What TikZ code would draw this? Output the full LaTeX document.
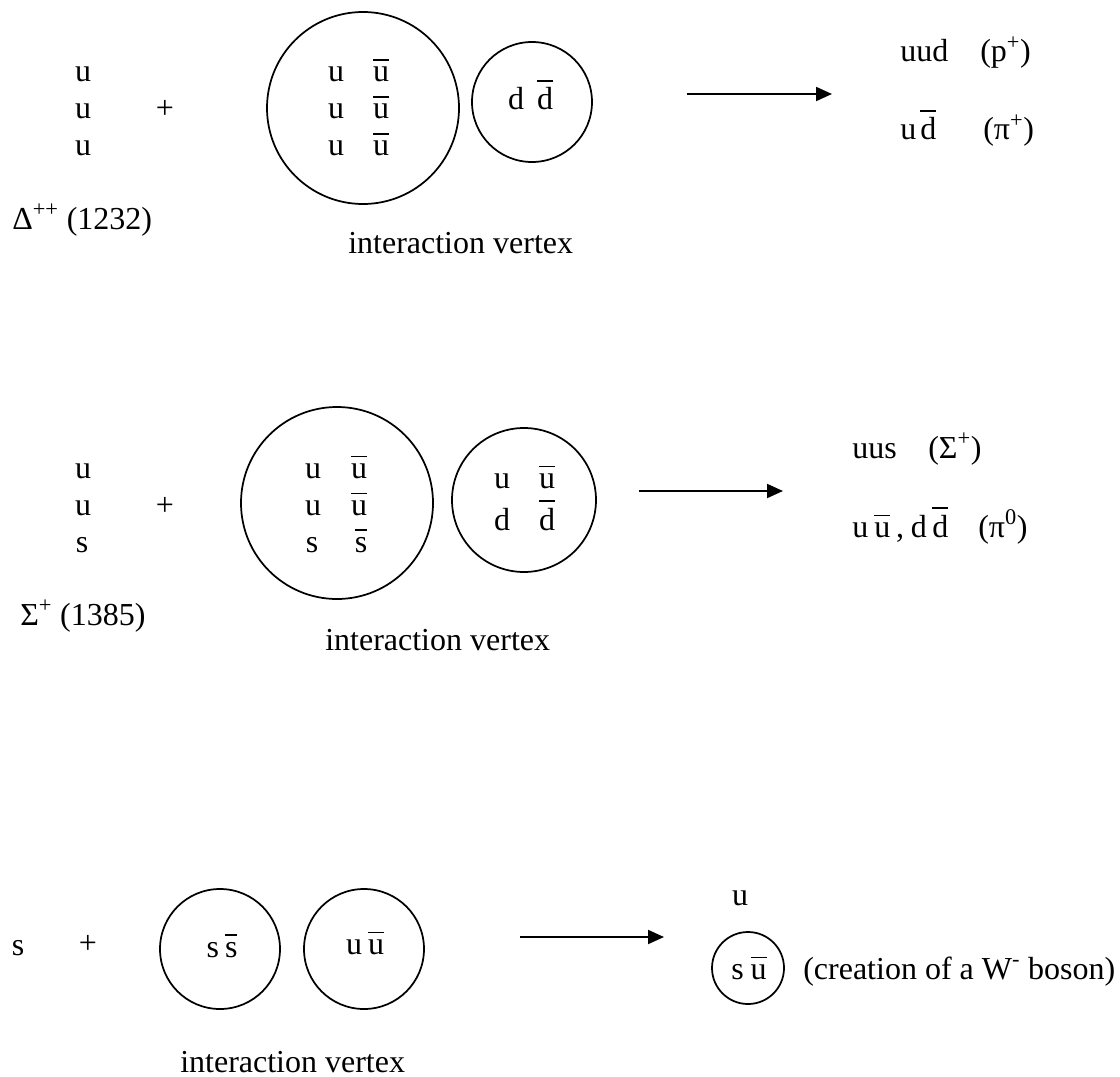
\documentclass[tikz,border=0pt]{standalone}
\usepackage{fontspec}
\setmainfont{Liberation Serif}
\usetikzlibrary{arrows.meta}
\newcommand\ob[1]{\leavevmode\vbox{\hrule height 1.2pt\kern 4.5pt\hbox{#1}}}
\tikzset{
  txt/.style={inner sep=0pt, anchor=base, font=\fontsize{24}{28}\selectfont},
  txtl/.style={txt, anchor=base west},
  ring/.style={draw, circle, line width=1.3pt, inner sep=0pt},
  arr/.style={-{Triangle[length=12pt,width=10.5pt]}, line width=1.5pt},
}
\begin{document}
\begin{tikzpicture}[x=0.75pt, y=-0.75pt]
\useasboundingbox (0,0) rectangle (1120,1077);
% ---------------- section 1 ----------------
\node[txt] (a1) at (83,81.5) {u};
\node[txt] (a2) at (83,118.5) {u};
\node[txt] (a3) at (83,155.5) {u};
\node[txt] (aplus) at (165,118.5) {+};
\node[txtl] (alab) at (12,229) {Δ\textsuperscript{++} (1232)};
\node[ring, minimum size=144pt] (abig) at (363,108) {};
\node[txt] (ai1) at (336,81.5) {u};
\node[txt] (aj1) at (381,81.5) {\ob{u}};
\node[txt] (ai2) at (336,118.5) {u};
\node[txt] (aj2) at (381,118.5) {\ob{u}};
\node[txt] (ai3) at (336,155.5) {u};
\node[txt] (aj3) at (381,155.5) {\ob{u}};
\node[ring, minimum size=90pt] (asmall) at (532,102) {};
\node[txt] (ad1) at (516,110) {d};
\node[txt] (ad2) at (545,110) {\ob{d}};
\node[txtl] (avert) at (348,253) {interaction vertex};
\coordinate (aas) at (687,94);
\coordinate (aae) at (832,94);
\draw[arr] (aas) -- (aae);
\node[txtl] (ao1) at (900,62) {uud};
\node[txtl] (ao1b) at (980,62) {(p\textsuperscript{+})};
\node[txtl] (ao2) at (900,140) {u\hspace{3pt}\ob{d}};
\node[txtl] (ao2b) at (983,140) {(π\textsuperscript{+})};
% ---------------- section 2 ----------------
\node[txt] (b1) at (83,478) {u};
\node[txt] (b2) at (83,515) {u};
\node[txt] (b3) at (82,552) {s};
\node[txt] (bplus) at (165,515) {+};
\node[txtl] (blab) at (20,625) {Σ\textsuperscript{+} (1385)};
\node[ring, minimum size=144pt] (bbig) at (337,503) {};
\node[txt] (bi1) at (313,478) {u};
\node[txt] (bj1) at (359,478) {\ob{u}};
\node[txt] (bi2) at (313,515) {u};
\node[txt] (bj2) at (359,515) {\ob{u}};
\node[txt] (bi3) at (312,552) {s};
\node[txt] (bj3) at (361,552) {\ob{s}};
\node[ring, minimum size=108pt] (bsmall) at (524,500) {};
\node[txt] (bk1) at (502,488) {u};
\node[txt] (bl1) at (547,488) {\ob{u}};
\node[txt] (bk2) at (502,530) {d};
\node[txt] (bl2) at (547,530) {\ob{d}};
\node[txtl] (bvert) at (325,650) {interaction vertex};
\coordinate (bas) at (639,491);
\coordinate (bae) at (783,491);
\draw[arr] (bas) -- (bae);
\node[txtl] (bo1) at (852,458) {uus};
\node[txtl] (bo1b) at (928,458) {(Σ\textsuperscript{+})};
\node[txtl] (bo2) at (852,537) {u\hspace{4.5pt}\ob{u}\hspace{4.3pt},\hspace{5.2pt}d\hspace{4pt}\ob{d}};
\node[txtl] (bo2b) at (978,537) {(π\textsuperscript{0})};
% ---------------- section 3 ----------------
\node[txt] (c1) at (18,955) {s};
\node[txt] (cplus) at (88,953) {+};
\node[ring, minimum size=90pt] (cc1) at (220,949) {};
\node[txt] (cs) at (222,957) {s\hspace{4.5pt}\ob{s}};
\node[ring, minimum size=90pt] (cc2) at (364,949) {};
\node[txt] (cu) at (365,954) {u\hspace{4.5pt}\ob{u}};
\node[txtl] (cvert) at (180,1072) {interaction vertex};
\coordinate (cas) at (520,937);
\coordinate (cae) at (664,937);
\draw[arr] (cas) -- (cae);
\node[txt] (cou) at (740,905) {u};
\node[ring, minimum size=54pt] (cw) at (748,968) {};
\node[txt] (csu) at (749,979) {s\hspace{5pt}\ob{u}};
\node[txtl] (cwl) at (803,979) {(creation of a W\textsuperscript{-} boson)};
\end{tikzpicture}
\end{document}
